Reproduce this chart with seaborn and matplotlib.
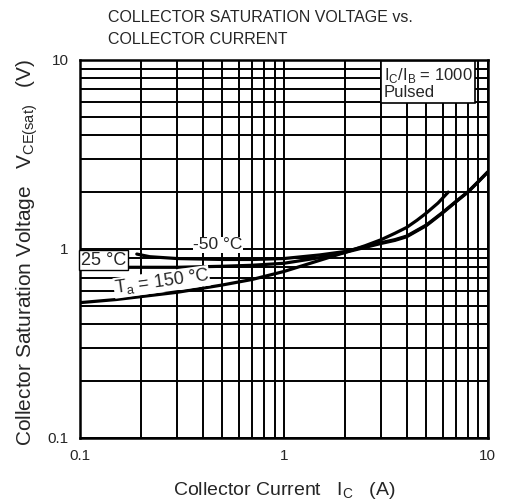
import matplotlib
matplotlib.use("Agg")
import matplotlib.pyplot as plt
import matplotlib.ticker as mticker
import numpy as np
import pandas as pd
import seaborn as sns

# values (Ic in A, Vce(sat) in V)
ic_150 = [0.1, 0.15, 0.2, 0.3, 0.4, 0.5, 0.7, 1.0, 1.3, 1.6, 2.0, 2.5, 3.0, 3.5, 4.0, 4.5, 5.0, 5.7, 6.4]
vce_150 = [0.52, 0.54, 0.56, 0.59, 0.62, 0.645, 0.69, 0.76, 0.83, 0.89, 0.96, 1.04, 1.12, 1.21, 1.30, 1.42, 1.55, 1.75, 2.0]

ic_25 = [0.1, 0.2, 0.3, 0.5, 0.7, 1.0, 1.5, 2.0, 3.0, 3.5, 4.0, 5.0, 6.0, 7.0, 8.0, 9.0, 10.0]
vce_25 = [0.80, 0.80, 0.80, 0.81, 0.82, 0.84, 0.90, 0.96, 1.07, 1.11, 1.16, 1.33, 1.55, 1.78, 2.0, 2.27, 2.55]

ic_m50 = [0.19, 0.22, 0.3, 0.5, 0.7, 1.0, 1.5, 2.0, 3.0, 3.5, 4.0, 5.0, 6.0, 7.0, 8.0, 9.0, 10.0]
vce_m50 = [0.94, 0.91, 0.89, 0.88, 0.88, 0.89, 0.93, 0.97, 1.08, 1.12, 1.17, 1.34, 1.56, 1.79, 2.01, 2.28, 2.56]

x_ticks = [0.1, 1, 10]
x_tick_labels = ["0.1", "1", "10"]
y_ticks = [0.1, 1, 10]
y_tick_labels = ["0.1", "1", "10"]

df = pd.concat([
    pd.DataFrame({"Ic": ic_150, "Vce": vce_150, "Ta": "150"}),
    pd.DataFrame({"Ic": ic_25, "Vce": vce_25, "Ta": "25"}),
    pd.DataFrame({"Ic": ic_m50, "Vce": vce_m50, "Ta": "-50"}),
])

sns.set_style("white")
plt.rcParams["font.family"] = ["Liberation Sans", "DejaVu Sans"]
plt.rcParams["mathtext.fontset"] = "custom"
plt.rcParams["mathtext.rm"] = "Liberation Sans"

fig = plt.figure(figsize=(5.06, 5.04), dpi=100)
ax = fig.add_axes([0.158, 0.131, 0.806, 0.750])

sns.lineplot(data=df, x="Ic", y="Vce", units="Ta", estimator=None,
             color="black", linewidth=2.3, sort=True, ax=ax, legend=False)

ax.set_xscale("log")
ax.set_yscale("log")
ax.set_xlim(0.1, 10)
ax.set_ylim(0.1, 10)

ax.xaxis.set_minor_locator(mticker.LogLocator(base=10, subs=np.arange(2, 10)))
ax.yaxis.set_minor_locator(mticker.LogLocator(base=10, subs=np.arange(2, 10)))
ax.xaxis.set_minor_formatter(mticker.NullFormatter())
ax.yaxis.set_minor_formatter(mticker.NullFormatter())
ax.set_xticks(x_ticks)
ax.set_xticklabels(x_tick_labels)
ax.set_yticks(y_ticks)
ax.set_yticklabels(y_tick_labels)
ax.grid(True, which="both", color="black", linewidth=1.4)
ax.tick_params(which="both", length=0, labelsize=11, pad=8)
for s in ax.spines.values():
    s.set_color("black")
    s.set_linewidth(1.8)

ax.set_xlabel(r"Collector Current   I$_{\mathregular{C}}$   (A)", fontsize=14, labelpad=12)
ax.set_ylabel(r"Collector Saturation Voltage   V$_{\mathregular{CE(sat)}}$   (V)", fontsize=15)
ax.yaxis.set_label_coords(-0.097, 0.49)

# condition box, top right
ax.text(0.745, 0.985, "I$_{\\mathregular{C}}$/I$_{\\mathregular{B}}$ = 1000\nPulsed",
        transform=ax.transAxes, ha="left", va="top", fontsize=12, linespacing=1.05,
        bbox=dict(facecolor="white", edgecolor="black", linewidth=1.2, pad=2), zorder=5)

# curve labels
ax.text(0.101, 0.87, "25 °C", fontsize=13, ha="left", va="center",
        bbox=dict(facecolor="white", edgecolor="black", linewidth=1.0, pad=1.0), zorder=5)
ax.text(0.36, 1.05, "-50 °C", fontsize=12.5, ha="left", va="center",
        bbox=dict(facecolor="white", edgecolor="none", pad=0.3), zorder=5)
ax.text(0.145, 0.67, "T$_{\\mathregular{a}}$ = 150 °C", fontsize=13, ha="left", va="center",
        rotation=8, bbox=dict(facecolor="white", edgecolor="none", pad=0.3), zorder=5)

fig.text(0.213, 0.98, "COLLECTOR SATURATION VOLTAGE vs.\nCOLLECTOR CURRENT",
         ha="left", va="top", fontsize=11.5, linespacing=1.55)

fig.savefig("out.png", dpi=100)
